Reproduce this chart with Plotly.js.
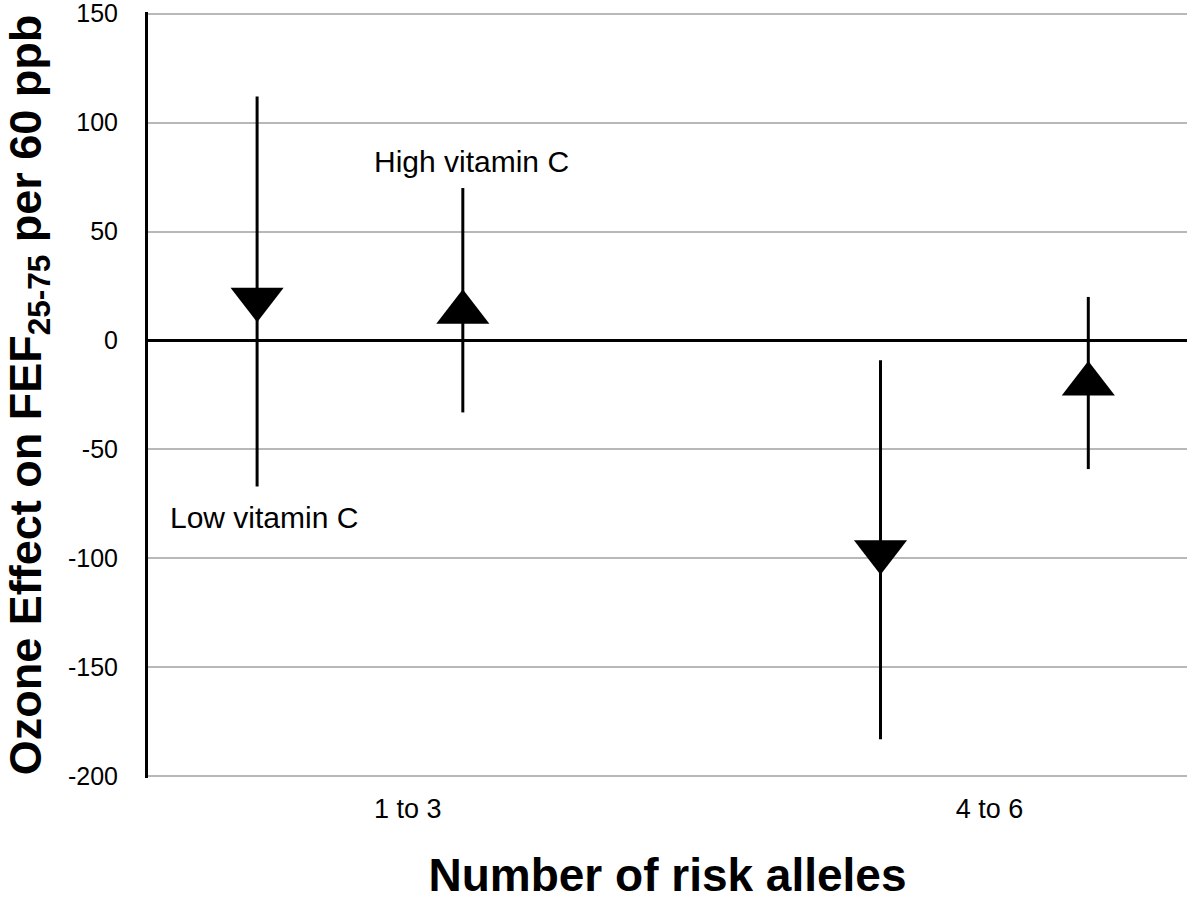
<!DOCTYPE html>
<html>
<head>
<meta charset="utf-8">
<script src="https://cdn.plot.ly/plotly-3.0.1.min.js"></script>
<style>html,body{margin:0;padding:0;background:#fff;}#chart{width:1200px;height:901px;}</style>
</head>
<body>
<div id="chart"></div>
<script>
// Categories (groups of risk alleles)
const categories = ["1 to 3", "4 to 6"];
// Estimates and 95% CI bounds
const lowVitC_est   = [19, -97];
const lowVitC_upper = [112, -9];
const lowVitC_lower = [-67, -183];
const highVitC_est   = [13, -20];
const highVitC_upper = [70, 20];
const highVitC_lower = [-33, -59];
// Y tick values and labels
const yTickVals   = [-200, -150, -100, -50, 0, 50, 100, 150];
const yTickLabels = ["-200", "-150", "-100", "-50", "0", "50", "100", "150"];
// Horizontal positions on a 0-10 numeric axis
const lowVitC_xpos  = [1.05, 7.05];
const highVitC_xpos = [3.03, 9.05];
const category_xpos = [2.5, 8.1];

const FONT = "Liberation Sans, Arial, Helvetica, sans-serif";

function plus(est, up){ return est.map((v,i)=>up[i]-v); }
function minus(est, lo){ return est.map((v,i)=>v-lo[i]); }

const traces = [
  {
    type: "scatter", mode: "markers", name: "Low vitamin C",
    x: lowVitC_xpos, y: lowVitC_est,
    marker: {symbol: "triangle-down", size: 46, color: "#000"},
    error_y: {type: "data", symmetric: false, array: plus(lowVitC_est, lowVitC_upper),
              arrayminus: minus(lowVitC_est, lowVitC_lower), color: "#000", thickness: 3, width: 0},
    hoverinfo: "y"
  },
  {
    type: "scatter", mode: "markers", name: "High vitamin C",
    x: highVitC_xpos, y: highVitC_est,
    marker: {symbol: "triangle-up", size: 46, color: "#000"},
    error_y: {type: "data", symmetric: false, array: plus(highVitC_est, highVitC_upper),
              arrayminus: minus(highVitC_est, highVitC_lower), color: "#000", thickness: 3, width: 0},
    hoverinfo: "y"
  }
];

const layout = {
  width: 1200, height: 901,
  paper_bgcolor: "#fff", plot_bgcolor: "#fff",
  showlegend: false,
  font: {family: FONT, color: "#000"},
  margin: {l: 148, r: 13, t: 12, b: 123, pad: 0},
  xaxis: {
    range: [0, 10], fixedrange: true,
    showgrid: false, zeroline: false, showline: false,
    tickmode: "array", tickvals: category_xpos, ticktext: categories,
    ticks: "", ticklabelstandoff: 12, ticklabeloverflow: "allow",
    tickfont: {size: 27, family: FONT, color: "#000"},
    title: {text: "<b>Number of risk alleles</b>", font: {size: 46, family: FONT, color: "#000"}, standoff: 42}
  },
  yaxis: {
    range: [-200.8, 150.8], fixedrange: true,
    tickmode: "array", tickvals: yTickVals, ticktext: yTickLabels,
    showgrid: true, gridcolor: "#b8b8b8", gridwidth: 2,
    zeroline: true, zerolinecolor: "#000", zerolinewidth: 3,
    showline: true, linecolor: "#000", linewidth: 3,
    ticks: "", ticklabelstandoff: 22, ticklabeloverflow: "allow",
    tickfont: {size: 25, family: FONT, color: "#000"},
    title: {text: "<b>Ozone Effect on FEF<sub>25-75</sub> per 60 ppb</b>", font: {size: 45, family: FONT, color: "#000"}, standoff: 22}
  },
  annotations: [
    {x: 3.11, y: 82, xref: "x", yref: "y", text: "High vitamin C", showarrow: false,
     font: {size: 30, family: FONT, color: "#000"}},
    {x: 1.12, y: -81, xref: "x", yref: "y", text: "Low vitamin C", showarrow: false,
     font: {size: 30, family: FONT, color: "#000"}}
  ]
};

Plotly.newPlot("chart", traces, layout, {displayModeBar: false, staticPlot: true});
</script>
</body>
</html>
